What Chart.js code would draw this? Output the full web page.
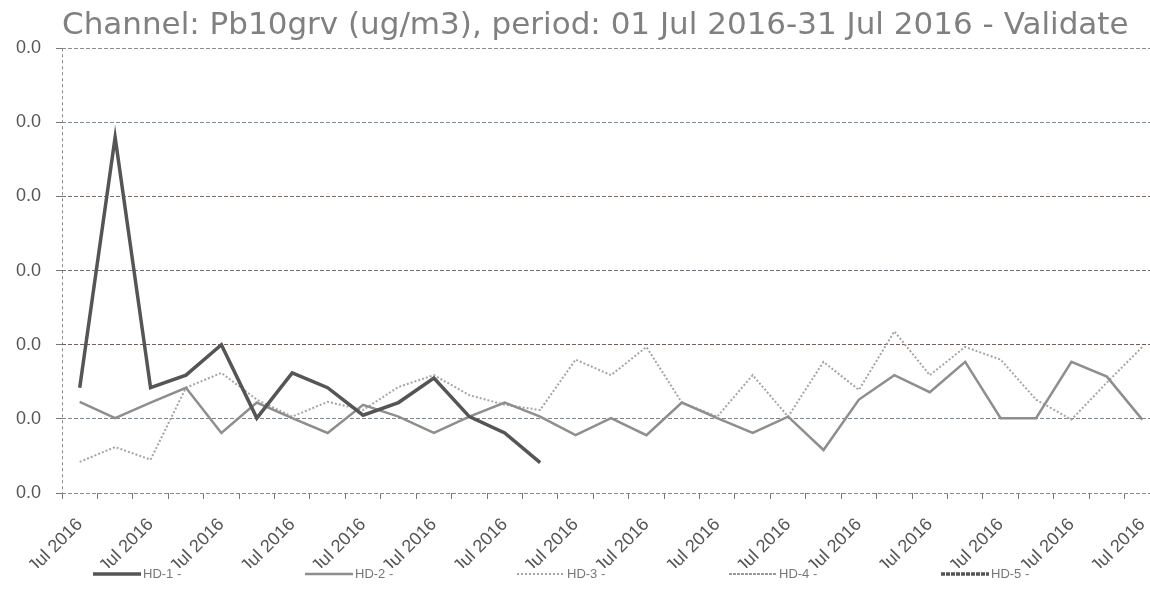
<!DOCTYPE html>
<html><head><meta charset="utf-8">
<script src="https://cdn.jsdelivr.net/npm/chart.js@4.4.1/dist/chart.umd.min.js"></script>
<style>html,body{margin:0;padding:0;background:#fff;overflow:hidden;width:1150px;height:608px}canvas{display:block}</style>
</head><body>
<canvas id="c" width="1160" height="608"></canvas>
<script>
const titleText = 'Channel: Pb10grv (ug/m3), period: 01 Jul 2016-31 Jul 2016 - Validate';
const days = ['01 Jul 2016','02 Jul 2016','03 Jul 2016','04 Jul 2016','05 Jul 2016','06 Jul 2016','07 Jul 2016','08 Jul 2016','09 Jul 2016','10 Jul 2016','11 Jul 2016','12 Jul 2016','13 Jul 2016','14 Jul 2016','15 Jul 2016','16 Jul 2016','17 Jul 2016','18 Jul 2016','19 Jul 2016','20 Jul 2016','21 Jul 2016','22 Jul 2016','23 Jul 2016','24 Jul 2016','25 Jul 2016','26 Jul 2016','27 Jul 2016','28 Jul 2016','29 Jul 2016','30 Jul 2016','31 Jul 2016'];
const seriesNames = ['HD-1 -','HD-2 -','HD-3 -','HD-4 -','HD-5 -'];
const hd1 = [0.00142,0.00480,0.00142,0.00159,0.00200,0.00101,0.00162,0.00142,0.00105,0.00122,0.00155,0.00103,0.00081,0.00041,null,null,null,null,null,null,null,null,null,null,null,null,null,null,null,null,null];
const hd2 = [0.00123,0.00101,0.00122,0.00142,0.00081,0.00122,0.00101,0.00081,0.00119,0.00103,0.00081,0.00103,0.00122,0.00103,0.00078,0.00101,0.00078,0.00122,0.00101,0.00081,0.00103,0.00058,0.00126,0.00159,0.00136,0.00177,0.00101,0.00101,0.00177,0.00157,0.00099];
const hd3 = [0.00042,0.00062,0.00045,0.00142,0.00162,0.00126,0.00103,0.00123,0.00112,0.00143,0.00159,0.00132,0.00119,0.00112,0.00180,0.00159,0.00197,0.00122,0.00103,0.00159,0.00103,0.00177,0.00139,0.00218,0.00159,0.00197,0.00180,0.00126,0.00099,0.00149,0.00197];
const hd4 = [];
const hd5 = [];
const yMin = 0, yMax = 0.006, yStep = 0.001;

const LABEL_CLIP_Y = 568;
const clipXLabels = {
  id: 'clipXLabels',
  afterLayout(chart) {
    const s = chart.scales.x;
    if (!s || s._clipWrapped) return;
    const orig = s.drawLabels;
    s.drawLabels = function (area) {
      const ctx = this.ctx;
      ctx.save();
      ctx.beginPath();
      ctx.rect(0, this.top, chart.width, LABEL_CLIP_Y - this.top);
      ctx.clip();
      orig.call(this, area);
      ctx.restore();
    };
    s._clipWrapped = true;
  }
};

const LEG_X0 = 93, LEG_PITCH = 212, LEG_Y = 574, LEG_LINE = 48;
const customLegend = {
  id: 'customLegend',
  afterDraw(chart) {
    const ctx = chart.ctx;
    ctx.save();
    chart.data.datasets.forEach((ds, i) => {
      const x = LEG_X0 + i * LEG_PITCH;
      ctx.beginPath();
      ctx.setLineDash(ds.borderDash || []);
      ctx.lineWidth = ds.borderWidth;
      ctx.strokeStyle = ds.borderColor;
      ctx.moveTo(x, LEG_Y);
      ctx.lineTo(x + LEG_LINE, LEG_Y);
      ctx.stroke();
      ctx.setLineDash([]);
      ctx.fillStyle = '#777';
      ctx.font = '13px "Liberation Sans", Arial, sans-serif';
      ctx.textBaseline = 'middle';
      ctx.textAlign = 'left';
      ctx.fillText(ds.label, x + LEG_LINE + 2, LEG_Y);
    });
    ctx.restore();
  }
};

const gridColors = ['#8a8a8a','#7d8590','#7a5a5a','#70737f','#8a6a6a','#7a8c99','#8a8a8a'];

new Chart(document.getElementById('c'), {
  type: 'line',
  data: {
    labels: days,
    datasets: [
      {label: seriesNames[0], data: hd1, borderColor: '#555', borderWidth: 3.5, pointRadius: 0, tension: 0},
      {label: seriesNames[1], data: hd2, borderColor: '#8e8e8e', borderWidth: 2.5, pointRadius: 0, tension: 0},
      {label: seriesNames[2], data: hd3, borderColor: '#a5a5a5', borderWidth: 2, borderDash: [2, 2], pointRadius: 0, tension: 0},
      {label: seriesNames[3], data: hd4, borderColor: '#9a9a9a', borderWidth: 2, borderDash: [3, 1], pointRadius: 0, tension: 0},
      {label: seriesNames[4], data: hd5, borderColor: '#555', borderWidth: 3.5, borderDash: [4, 1], pointRadius: 0, tension: 0}
    ]
  },
  options: {
    responsive: false,
    animation: false,
    devicePixelRatio: 1,
    layout: {padding: {left: 0, right: 0, top: 0, bottom: 40}},
    plugins: {
      legend: {display: false},
      tooltip: {enabled: false},
      title: {
        display: true, text: titleText, align: 'start', fullSize: false,
        color: '#808080',
        font: {family: '"DejaVu Sans", Verdana, sans-serif', size: 31, weight: 'normal'},
        padding: {top: 7, bottom: 4}
      }
    },
    scales: {
      x: {
        offset: true,
        afterFit(scale) { scale.height = 75; scale.paddingLeft = 0; scale.paddingRight = 0; },
        grid: {
          offset: true,
          drawOnChartArea: true,
          color: (c) => c.index === 0 ? '#888' : 'rgba(0,0,0,0)',
          tickColor: '#777',
          tickLength: 6
        },
        border: {display: false, dash: [3, 3]},
        ticks: {
          autoSkip: false, minRotation: 45, maxRotation: 45,
          padding: 15,
          color: '#555',
          font: {family: '"Liberation Sans", Arial, sans-serif', size: 18},
          callback: (v, i) => (i % 2 === 0 ? days[i] : '')
        }
      },
      y: {
        min: yMin, max: yMax,
        afterFit(scale) { scale.width = 62; },
        grid: {
          color: (c) => gridColors[c.index] || '#888',
          tickColor: '#777',
          tickLength: 6
        },
        border: {display: false, dash: [4, 2]},
        ticks: {
          stepSize: yStep,
          padding: 15,
          color: '#555',
          font: {family: '"Liberation Sans", Arial, sans-serif', size: 18},
          callback: (v) => v.toFixed(1)
        }
      }
    }
  },
  plugins: [clipXLabels, customLegend]
});
</script>
</body></html>
